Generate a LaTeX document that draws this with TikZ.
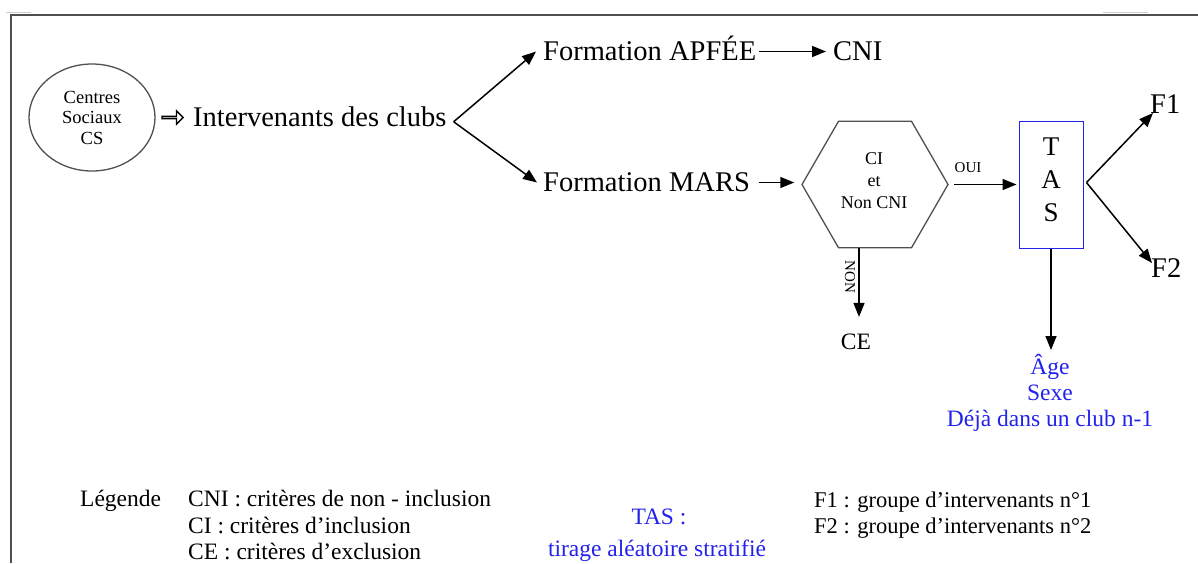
\documentclass[tikz,border=0pt]{standalone}
\usepackage{fontspec}
\setmainfont{Liberation Serif}
\usetikzlibrary{arrows.meta,shapes.geometric,shapes.arrows}
\definecolor{tasblue}{RGB}{35,35,235}
\definecolor{framegray}{RGB}{80,80,80}
\begin{document}
\begin{tikzpicture}[x=1pt,y=-1pt,
  big/.style={font=\fontsize{28.5}{33}\selectfont, inner sep=0pt, text height=19pt, text depth=0.5pt, anchor=west},
  mid/.style={font=\fontsize{23.5}{26}\selectfont, inner sep=0pt},
  small/.style={font=\fontsize{18.5}{20.5}\selectfont, inner sep=0pt, align=center},
  tiny/.style={font=\fontsize{15}{18}\selectfont, inner sep=0pt},
  legend/.style={font=\fontsize{23.5}{26}\selectfont, inner sep=0pt, anchor=base west},
  legendf/.style={font=\fontsize{22.5}{26}\selectfont, inner sep=0pt, anchor=base west},
  arr/.style={draw=black, line width=1.5pt, -{Triangle[length=14pt,width=11pt]}}
]
\useasboundingbox (0,0) rectangle (1198,563);
\fill[white] (0,0) rectangle (1198,563);

% page frame and ruler ticks
\draw[framegray, line width=1.5pt] (11,563) -- (11,15) -- (1198,15);
\draw[gray!40, line width=1pt] (6,12) -- (31,12);
\draw[gray!40, line width=1pt] (1103,12) -- (1148,12);

% flow nodes
\node[draw=framegray, line width=1.3pt, ellipse, minimum width=126pt, minimum height=107pt, small] (cs) at (92,117.5) {Centres\\Sociaux\\CS};
\node[single arrow, draw=black, line width=1.4pt, minimum height=21pt, minimum width=13pt, single arrow head extend=3.5pt, inner sep=0pt] (hollow) at (172,117.5) {};
\node[big] (inter) at (193,116.75) {Intervenants des clubs};
\coordinate (sp1) at ([xshift=7pt,yshift=-5pt]inter.east);
\node[big] (apfee) at (543,51.5) {Formation APFÉE};
\node[big] (cni) at (833,51.5) {CNI};
\node[big] (mars) at (543,182.5) {Formation MARS};
\node[draw=framegray, line width=1.3pt, regular polygon, regular polygon sides=6, minimum size=146pt, font=\fontsize{18}{22}\selectfont, inner sep=0pt, align=center] (hex) at (875,184.5) {};
\node[font=\fontsize{18}{22}\selectfont, inner sep=0pt, align=center] (hextxt) at (874,181) {CI\\et\\Non CNI};
\node[tiny] (oui) at (968,168) {OUI};
\node[draw=tasblue, line width=1pt, minimum width=64pt, minimum height=127pt, inner sep=0pt] (tas) at (1051,184.5) {};
\node[font=\fontsize{27}{33}\selectfont, inner sep=0pt, align=center] (tastxt) at (1051,179.5) {T\\A\\S};
\coordinate (sp2) at ([xshift=3pt,yshift=2pt]tas.east);
\node[big] (f1) at (1150,104) {F1};
\node[big] (f2) at (1151,268) {F2};
\node[tiny, rotate=-90] (non) at (850,277) {NON};
\node[mid] (ce) at (856,342) {CE};
\node[mid, text=tasblue, align=center, anchor=north] (crit) at (1050,354) {Âge\\Sexe\\Déjà dans un club n-1};

% connectors
\draw[arr] (sp1) -- ([xshift=-7pt]apfee.west);
\draw[arr] (sp1) -- ([xshift=-6pt]mars.west);
\draw[arr] ([xshift=3pt]apfee.east) -- ([xshift=-7pt]cni.west);
\draw[arr] ([xshift=9pt]mars.east) -- ([xshift=-7pt]mars.east -| hex.west);
\draw[arr] ([xshift=5pt]hex.east) -- ([xshift=-2pt]tas.west);
\draw[arr] (sp2) -- ([xshift=3pt,yshift=-9pt]f1.west);
\draw[arr] (sp2) -- ([xshift=1pt,yshift=5pt]f2.west);
\draw[arr] ([xshift=-16pt]hex.south) -- ([xshift=3pt,yshift=17pt]ce.north);
\draw[arr] (tas.south) -- ([yshift=4pt]tas.south |- crit.north);

% legend
\node[legend] (lg) at (80,506.7) {Légende};
\node[legend] (lgcni) at (188,506.7) {CNI : critères de non - inclusion};
\node[legend] (lgci) at (188,533) {CI : critères d’inclusion};
\node[legend] (lgce) at (188,559.3) {CE : critères d’exclusion};
\node[legend, anchor=base, text=tasblue] (lgtas) at (659,524.5) {TAS :};
\node[legend, anchor=base, text=tasblue] (lgtir) at (657,556) {tirage aléatoire stratifié};
\node[legendf] (lgf1) at (814,507.5) {F1 : groupe d’intervenants n°1};
\node[legendf] (lgf2) at (814,533.6) {F2 : groupe d’intervenants n°2};
\end{tikzpicture}
\end{document}
